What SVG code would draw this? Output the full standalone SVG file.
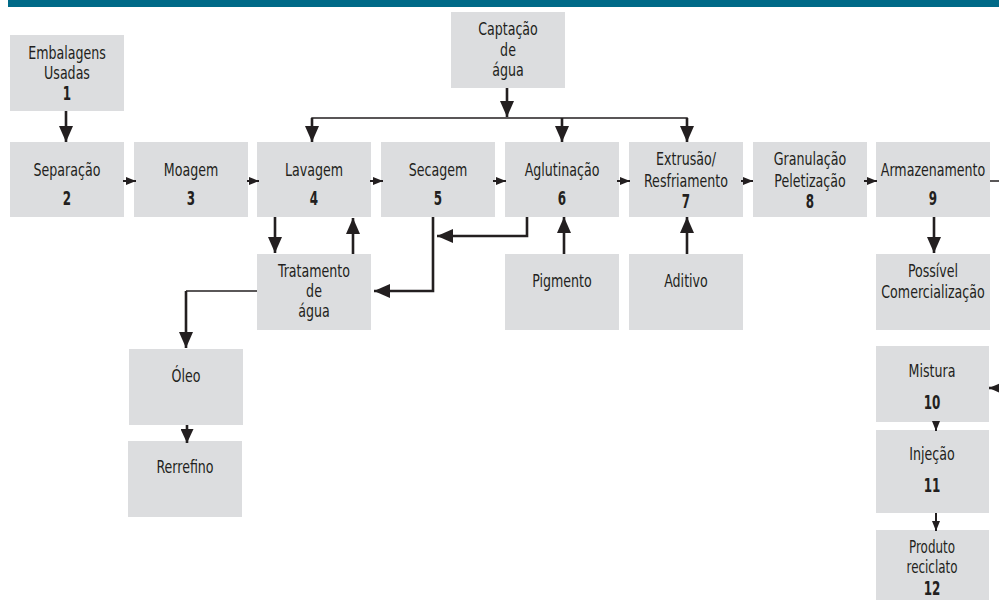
<svg xmlns="http://www.w3.org/2000/svg" width="999" height="600" viewBox="0 0 999 600">
<style>
.box{fill:#dcdddf}
text{font-family:"DejaVu Sans Condensed","Liberation Sans",sans-serif;font-size:18px;fill:#231f20;text-anchor:middle}
.n{font-weight:bold;font-size:19px}
.s{font-size:17px}
.thick{stroke:#231f20;stroke-width:2.6;fill:none}
.thin{stroke:#231f20;stroke-width:1.5;fill:none}
.sm{stroke:#231f20;stroke-width:2;fill:none}
</style>
<defs>
<marker id="big" markerUnits="userSpaceOnUse" markerWidth="17" markerHeight="15" refX="16" refY="7" orient="auto"><path d="M0,0 L16,7 L0,14 z" fill="#231f20"/></marker>
<marker id="med" markerUnits="userSpaceOnUse" markerWidth="15" markerHeight="13" refX="14" refY="6.5" orient="auto"><path d="M0,0 L14,6.5 L0,13 z" fill="#231f20"/></marker>
<marker id="small" markerUnits="userSpaceOnUse" markerWidth="11" markerHeight="9" refX="10" refY="4" orient="auto"><path d="M0,0 L10,4 L0,8 z" fill="#231f20"/></marker>
</defs>
<rect x="8" y="0" width="991" height="7" fill="#006a88"/>

<g id="n1"><rect class="box" x="10" y="35" width="114" height="76"/><text transform="translate(67,59) scale(0.78,1)">Embalagens</text><text transform="translate(67,79) scale(0.78,1)">Usadas</text><text class="n" transform="translate(67,100) scale(0.7,1)">1</text></g>
<g id="cap"><rect class="box" x="451" y="12" width="114" height="76"/><text transform="translate(508,35) scale(0.78,1)">Captação</text><text transform="translate(508,56) scale(0.78,1)">de</text><text transform="translate(508,76) scale(0.78,1)">água</text></g>
<g id="n2"><rect class="box" x="10" y="142" width="114" height="75"/><text transform="translate(67,176) scale(0.78,1)">Separação</text><text class="n" transform="translate(67,205) scale(0.7,1)">2</text></g>
<g id="n3"><rect class="box" x="134" y="142" width="114" height="75"/><text transform="translate(191,176) scale(0.78,1)">Moagem</text><text class="n" transform="translate(191,205) scale(0.7,1)">3</text></g>
<g id="n4"><rect class="box" x="257" y="142" width="114" height="75"/><text transform="translate(314,176) scale(0.78,1)">Lavagem</text><text class="n" transform="translate(314,205) scale(0.7,1)">4</text></g>
<g id="n5"><rect class="box" x="381" y="142" width="114" height="75"/><text transform="translate(438,176) scale(0.78,1)">Secagem</text><text class="n" transform="translate(438,205) scale(0.7,1)">5</text></g>
<g id="n6"><rect class="box" x="505" y="142" width="114" height="75"/><text transform="translate(562,176) scale(0.78,1)">Aglutinação</text><text class="n" transform="translate(562,205) scale(0.7,1)">6</text></g>
<g id="n7"><rect class="box" x="629" y="142" width="114" height="75"/><text transform="translate(686,165) scale(0.78,1)">Extrusão/</text><text transform="translate(686,187) scale(0.78,1)">Resfriamento</text><text class="n" transform="translate(686,208) scale(0.7,1)">7</text></g>
<g id="n8"><rect class="box" x="753" y="142" width="114" height="75"/><text transform="translate(810,165) scale(0.78,1)">Granulação</text><text transform="translate(810,187) scale(0.78,1)">Peletização</text><text class="n" transform="translate(810,208) scale(0.7,1)">8</text></g>
<g id="n9"><rect class="box" x="876" y="142" width="114" height="75"/><text transform="translate(933,176) scale(0.78,1)">Armazenamento</text><text class="n" transform="translate(933,205) scale(0.7,1)">9</text></g>
<g id="trat"><rect class="box" x="257" y="254" width="114" height="76"/><text transform="translate(314,277) scale(0.78,1)">Tratamento</text><text transform="translate(314,297) scale(0.78,1)">de</text><text transform="translate(314,317) scale(0.78,1)">água</text></g>
<g id="pig"><rect class="box" x="505" y="254" width="114" height="76"/><text transform="translate(562,287) scale(0.78,1)">Pigmento</text></g>
<g id="adi"><rect class="box" x="629" y="254" width="114" height="76"/><text transform="translate(686,287) scale(0.78,1)">Aditivo</text></g>
<g id="com"><rect class="box" x="876" y="254" width="114" height="76"/><text transform="translate(933,277) scale(0.78,1)">Possível</text><text transform="translate(933,298) scale(0.78,1)">Comercialização</text></g>
<g id="oleo"><rect class="box" x="129" y="349" width="114" height="76"/><text transform="translate(186,382) scale(0.78,1)">Óleo</text></g>
<g id="rerr"><rect class="box" x="128" y="441" width="114" height="76"/><text transform="translate(185,473) scale(0.78,1)">Rerrefino</text></g>
<g id="n10"><rect class="box" x="876" y="346" width="113" height="76"/><text transform="translate(932,377) scale(0.78,1)">Mistura</text><text class="n" transform="translate(932,409) scale(0.7,1)">10</text></g>
<g id="n11"><rect class="box" x="876" y="430" width="113" height="83"/><text transform="translate(932,460) scale(0.78,1)">Injeção</text><text class="n" transform="translate(932,492) scale(0.7,1)">11</text></g>
<g id="n12"><rect class="box" x="876" y="530" width="113" height="75"/><text class="s" transform="translate(932,553) scale(0.78,1)">Produto</text><text class="s" transform="translate(932,573) scale(0.78,1)">reciclato</text><text class="n" transform="translate(932,595) scale(0.7,1)">12</text></g>

<g id="connectors">
<line class="thick" x1="66" y1="111" x2="66" y2="142" marker-end="url(#big)"/>
<line class="sm" x1="123" y1="181" x2="136" y2="181" marker-end="url(#small)"/>
<line class="sm" x1="247" y1="181" x2="259" y2="181" marker-end="url(#small)"/>
<line class="sm" x1="370" y1="181" x2="383" y2="181" marker-end="url(#small)"/>
<line class="sm" x1="493" y1="181" x2="506" y2="181" marker-end="url(#small)"/>
<line class="sm" x1="617" y1="181" x2="630" y2="181" marker-end="url(#small)"/>
<line class="sm" x1="741" y1="181" x2="753" y2="181" marker-end="url(#small)"/>
<line class="sm" x1="864" y1="181" x2="877" y2="181" marker-end="url(#small)"/>
<line class="thin" x1="990" y1="181" x2="1010" y2="181"/>
<line class="thick" x1="1010" y1="388" x2="989" y2="388" marker-end="url(#big)"/>
<line class="thick" x1="507" y1="88" x2="507" y2="117" marker-end="url(#big)"/>
<polyline class="thin" points="312,126 312,118 687,118 687,126"/>
<line class="thick" x1="312" y1="118" x2="312" y2="142" marker-end="url(#big)"/>
<line class="thick" x1="562" y1="118" x2="562" y2="142" marker-end="url(#big)"/>
<line class="thick" x1="687" y1="118" x2="687" y2="142" marker-end="url(#big)"/>
<line class="thick" x1="275" y1="217" x2="275" y2="253" marker-end="url(#big)"/>
<line class="thick" x1="353" y1="254" x2="353" y2="218" marker-end="url(#big)"/>
<polyline class="thick" points="527,217 527,236 437,236" marker-end="url(#big)"/>
<polyline class="thick" points="433,217 433,291 374,291" marker-end="url(#big)"/>
<polyline class="thin" points="257,291 186,291"/>
<line class="thick" x1="186" y1="291" x2="186" y2="348" marker-end="url(#big)"/>
<line class="thick" x1="187" y1="425" x2="187" y2="443" marker-end="url(#med)"/>
<line class="thick" x1="564" y1="254" x2="564" y2="217" marker-end="url(#big)"/>
<line class="thick" x1="687" y1="254" x2="687" y2="217" marker-end="url(#big)"/>
<line class="thick" x1="934" y1="217" x2="934" y2="253" marker-end="url(#big)"/>
<line class="sm" x1="936" y1="422" x2="936" y2="431" marker-end="url(#small)"/>
<line class="sm" x1="936" y1="513" x2="936" y2="531" marker-end="url(#small)"/>
</g>
</svg>
